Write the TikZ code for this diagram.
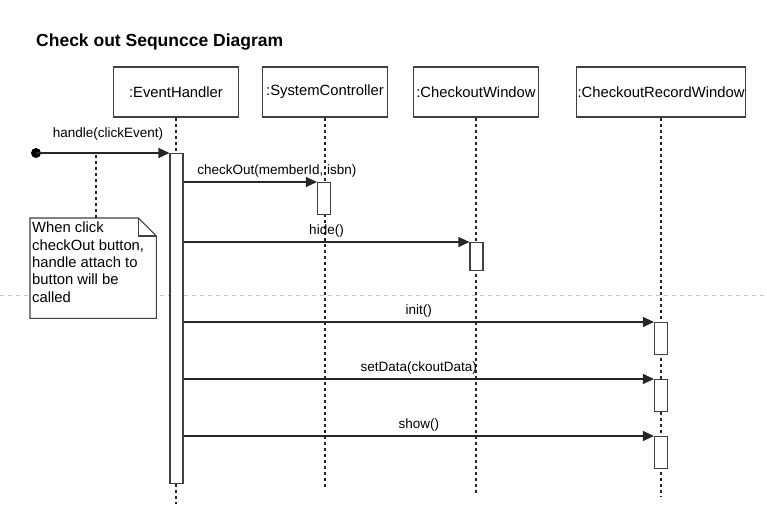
\documentclass[tikz,border=0pt]{standalone}
\usepackage{fontspec}
\setmainfont{Liberation Sans}
\usetikzlibrary{arrows.meta}

\begin{document}
\begin{tikzpicture}[x=1pt, y=-1pt,
  every node/.style={font=\fontsize{13.5}{16}\selectfont, text=black},
  object/.style={draw=black!75, line width=1.1pt, minimum width=125pt, minimum height=50pt, inner sep=0pt, font=\fontsize{14.8}{17}\selectfont},
  lifeline/.style={draw=black!85, line width=1.1pt, dash pattern=on 3pt off 3pt},
  activation/.style={draw=black!75, fill=white, line width=1.1pt, minimum width=13pt, inner sep=0pt, anchor=north},
  msg/.style={draw=black!85, line width=1.1pt, -{Triangle[length=11pt,width=10pt]}},
  msglabel/.style={above=3pt, inner sep=1pt},
  notebox/.style={draw=none, minimum width=126pt, minimum height=100pt, inner sep=0pt, anchor=north west},
  notetext/.style={inner xsep=2pt, inner ysep=4pt, align=left, anchor=north west, font=\fontsize{14.8}{17.3}\selectfont},
  pagebreak/.style={draw=black!22, line width=0.8pt, dash pattern=on 4pt off 4pt}
]
\useasboundingbox (0,0) rectangle (767,527);

% title
\node[font=\bfseries\fontsize{17.5}{20}\selectfont, anchor=base west, inner sep=0pt] (title) at (36,46.5) {Check out Sequncce Diagram};

% page break
\draw[pagebreak] (0,295) -- (767,295);

% objects
\node[object] (eh) at (176,92) {:EventHandler};
\node[object] (sc) at (325,92) {:SystemController};
\node[object] (cw) at (476,92) {:CheckoutWindow};
\node[object, minimum width=169pt] (crw) at (661,92) {:CheckoutRecordWindow};

% lifelines
\coordinate (ehend) at (176,504);
\coordinate (scend) at (325,489);
\coordinate (cwend) at (476,494);
\coordinate (crwend) at (661,496);
\draw[lifeline] (eh.south) -- (ehend);
\draw[lifeline] (sc.south) -- (scend);
\draw[lifeline] (cw.south) -- (cwend);
\draw[lifeline] (crw.south) -- (crwend);

% activations
\node[activation, minimum height=330pt] (acteh) at (176.5,153) {};
\node[activation, minimum height=32pt] (actsc) at (324,182) {};
\node[activation, minimum height=28pt] (actcw) at (476.5,242) {};
\node[activation, minimum height=32pt] (actinit) at (661,322) {};
\node[activation, minimum height=32pt] (actdata) at (661,379) {};
\node[activation, minimum height=32pt] (actshow) at (661,436) {};

% note
\node[notebox] (note) at (30,218) {};
\filldraw[draw=black!75, fill=white, line width=1.1pt]
  (note.north west) -- ([xshift=-18pt]note.north east) -- ([yshift=-18pt]note.north east)
  -- (note.south east) -- (note.south west) -- cycle;
\draw[draw=black!75, line width=1.1pt]
  ([xshift=-18pt]note.north east) |- ([yshift=-18pt]note.north east);
\node[notetext] (notetxt) at (note.north west) {When click\\checkOut button,\\handle attach to\\button will be\\called};
\coordinate (hook) at (96,153);
\draw[lifeline] (note.north -| hook) -- (hook);

% messages
\node[circle, fill=black, inner sep=0pt, minimum size=10pt] (start) at (36,153) {};
\draw[msg] (start.center) -- (acteh.north west) node[msglabel, pos=0.54, yshift=8pt] {handle(clickEvent)};
\draw[msg] (acteh.east |- actsc.north) -- (actsc.north west) node[msglabel, pos=0.7] {checkOut(memberId, isbn)};
\draw[msg] (acteh.east |- actcw.north) -- (actcw.north west) node[msglabel, midway] {hide()};
\draw[msg] (acteh.east |- actinit.north) -- (actinit.north west) node[msglabel, midway] {init()};
\draw[msg] (acteh.east |- actdata.north) -- (actdata.north west) node[msglabel, midway] {setData(ckoutData)};
\draw[msg] (acteh.east |- actshow.north) -- (actshow.north west) node[msglabel, midway] {show()};
\end{tikzpicture}
\end{document}
